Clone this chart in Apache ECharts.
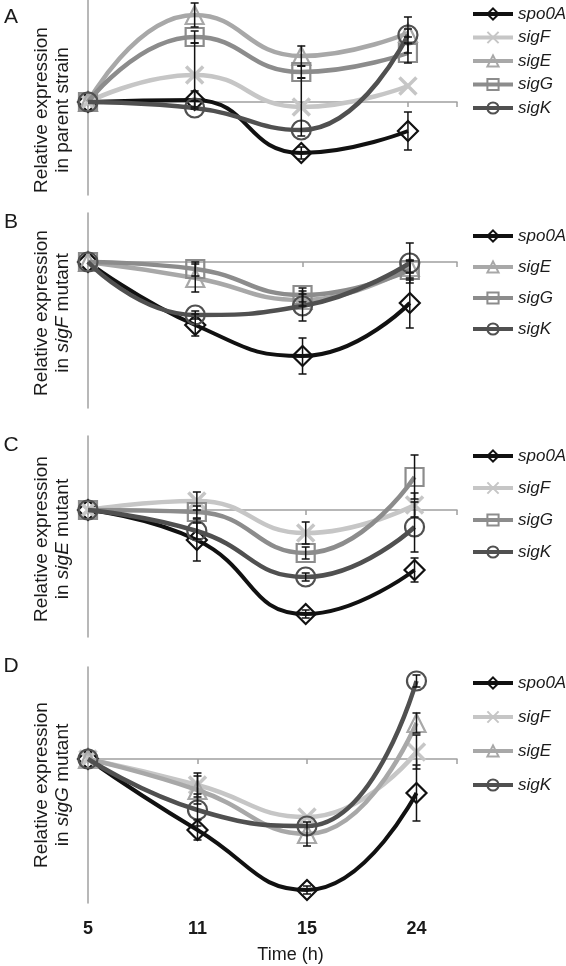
<!DOCTYPE html>
<html>
<head>
<meta charset="utf-8">
<script src="https://cdn.jsdelivr.net/npm/echarts@6/dist/echarts.min.js"></script>
<style>
html,body{margin:0;padding:0;background:#fff;}
#chart{width:566px;height:966px;}
</style>
</head>
<body>
<div id="chart"></div>
<script>
// ---- data ----
const times = ['5', '11', '15', '24'];

// Panel A: parent strain
const A_spo0A = [0, 0.1, -2.55, -1.45];
const A_spo0A_err = [0, 0.45, 0.3, 0.95];
const A_sigF = [0, 1.35, -0.25, 0.8];
const A_sigF_err = [0, 1.6, 1.45, 0];
const A_sigE = [0, 4.35, 2.3, 3.45];
const A_sigE_err = [0, 0.6, 0.5, 0.2];
const A_sigG = [0, 3.25, 1.5, 2.45];
const A_sigG_err = [0, 0.3, 0.3, 0.5];
const A_sigK = [0, -0.3, -1.4, 3.35];
const A_sigK_err = [0, 0, 0, 0.9];

// Panel B: sigF mutant
const B_spo0A = [0, -3.15, -4.7, -2.05];
const B_spo0A_err = [0, 0.55, 0.9, 1.25];
const B_sigE = [0, -0.8, -1.9, -0.25];
const B_sigE_err = [0, 0.7, 0.3, 0.3];
const B_sigG = [0, -0.35, -1.65, -0.4];
const B_sigG_err = [0, 0.35, 0.35, 0.5];
const B_sigK = [0, -2.65, -2.2, -0.05];
const B_sigK_err = [0, 0.2, 0.75, 1.0];

// Panel C: sigE mutant
const C_spo0A = [0, -1.5, -5.2, -3.0];
const C_spo0A_err = [0, 1.05, 0.2, 0.6];
const C_sigF = [0, 0.45, -1.15, 0.25];
const C_sigF_err = [0, 0.45, 0.55, 0.6];
const C_sigG = [0, -0.1, -2.15, 1.65];
const C_sigG_err = [0, 0.3, 0.3, 1.1];
const C_sigK = [0, -1.05, -3.35, -0.85];
const C_sigK_err = [0, 0.4, 0.2, 1.25];

// Panel D: sigG mutant
const D_spo0A = [0, -3.55, -6.55, -1.7];
const D_spo0A_err = [0, 0.5, 0.2, 1.4];
const D_sigF = [0, -1.3, -2.9, 0.35];
const D_sigF_err = [0, 0.6, 0, 0.85];
const D_sigE = [0, -1.55, -3.75, 1.8];
const D_sigE_err = [0, 0.7, 0.6, 0.5];
const D_sigK = [0, -2.55, -3.35, 3.9];
const D_sigK_err = [0, 0.8, 0, 0.3];

// ---- styles ----
const FONT = '"Liberation Sans", Arial, sans-serif';
const AXIS_GRAY = '#a0a0a0';
const geneStyle = {
  spo0A: {color: '#111111', symbol: 'diamond', size: 20, lw: 4},
  sigF: {color: '#c6c6c6', symbol: 'path://M0,0L10,10M10,0L0,10', size: 17, lw: 4.5},
  sigE: {color: '#a8a8a8', symbol: 'triangle', size: 18, lw: 4.5},
  sigG: {color: '#8c8c8c', symbol: 'rect', size: 18, lw: 4.5},
  sigK: {color: '#505050', symbol: 'circle', size: 19, lw: 4.5}
};

const panels = [
  {top: 0, height: 195, xmax: 3.46, ymin: -4.65, ymax: 5.1,
   genes: [['spo0A', A_spo0A, A_spo0A_err], ['sigF', A_sigF, A_sigF_err], ['sigE', A_sigE, A_sigE_err], ['sigG', A_sigG, A_sigG_err], ['sigK', A_sigK, A_sigK_err]],
   legendTop: 4, legendGap: 3.5},
  {top: 213, height: 195, xmax: 3.44, ymin: -7.3, ymax: 2.45,
   genes: [['spo0A', B_spo0A, B_spo0A_err], ['sigE', B_sigE, B_sigE_err], ['sigG', B_sigG, B_sigG_err], ['sigK', B_sigK, B_sigK_err]],
   legendTop: 226, legendGap: 11},
  {top: 436, height: 201, xmax: 3.39, ymin: -6.35, ymax: 3.7,
   genes: [['spo0A', C_spo0A, C_spo0A_err], ['sigF', C_sigF, C_sigF_err], ['sigG', C_sigG, C_sigG_err], ['sigK', C_sigK, C_sigK_err]],
   legendTop: 446, legendGap: 12},
  {top: 667, height: 236, xmax: 3.37, ymin: -7.2, ymax: 4.6,
   genes: [['spo0A', D_spo0A, D_spo0A_err], ['sigF', D_sigF, D_sigF_err], ['sigE', D_sigE, D_sigE_err], ['sigK', D_sigK, D_sigK_err]],
   legendTop: 673, legendGap: 14}
];

const grid = [], xAxis = [], yAxis = [], series = [], legend = [];

panels.forEach((p, gi) => {
  grid.push({left: 88, right: 109, top: p.top, height: p.height});
  xAxis.push({
    gridIndex: gi, type: 'value', min: 0, max: p.xmax, interval: 1,
    axisLine: {show: true, onZero: true, lineStyle: {color: AXIS_GRAY, width: 1.5}},
    axisTick: {show: true, length: 5, lineStyle: {color: AXIS_GRAY, width: 1.5}},
    axisLabel: {show: false}, splitLine: {show: false}
  });
  yAxis.push({
    gridIndex: gi, type: 'value', min: p.ymin, max: p.ymax,
    axisLine: {show: true, lineStyle: {color: AXIS_GRAY, width: 1.5}},
    axisTick: {show: false}, axisLabel: {show: false}, splitLine: {show: false}
  });
  legend.push({
    orient: 'vertical', left: 471, top: p.legendTop, itemGap: p.legendGap, padding: 0,
    itemWidth: 40, itemHeight: 14,
    data: p.genes.map(g => g[0]),
    lineStyle: {width: 4},
    textStyle: {fontFamily: FONT, fontSize: 17, fontStyle: 'italic', color: '#1a1a1a', lineHeight: 20},
    selectedMode: false
  });
  p.genes.forEach((g, si) => {
    const st = geneStyle[g[0]];
    series.push({
      type: 'line', name: g[0], xAxisIndex: gi, yAxisIndex: gi,
      data: g[1].map((v, i) => [i, v]),
      smooth: 0.5, symbol: st.symbol, symbolSize: st.size,
      lineStyle: {color: st.color, width: st.lw},
      itemStyle: {color: 'rgba(255,255,255,0)', borderColor: st.color, borderWidth: g[0] === 'sigF' ? 3.5 : 2.2},
      emphasis: {disabled: true}, z: 2 + si
    });
  });
  const errData = [];
  p.genes.forEach(g => g[1].forEach((v, i) => { if (g[2][i] > 0) errData.push([i, v, g[2][i]]); }));
  series.push({
    type: 'custom', xAxisIndex: gi, yAxisIndex: gi, data: errData, z: 10, silent: true,
    renderItem: function (params, api) {
      const x = api.value(0), y = api.value(1), e = api.value(2);
      const t = api.coord([x, y + e]), b = api.coord([x, y - e]);
      const w = 4, s = {stroke: '#111', lineWidth: 1.5};
      return {type: 'group', children: [
        {type: 'line', shape: {x1: t[0], y1: t[1], x2: b[0], y2: b[1]}, style: s},
        {type: 'line', shape: {x1: t[0] - w, y1: t[1], x2: t[0] + w, y2: t[1]}, style: s},
        {type: 'line', shape: {x1: b[0] - w, y1: b[1], x2: b[0] + w, y2: b[1]}, style: s}
      ]};
    }
  });
});

// bottom label axis for panel D
xAxis.push({
  gridIndex: 3, type: 'value', min: 0, max: panels[3].xmax, interval: 1, position: 'bottom',
  axisLine: {show: false, onZero: false}, axisTick: {show: false}, splitLine: {show: false},
  axisLabel: {show: true, margin: 17, fontFamily: FONT, fontSize: 18, fontWeight: 'bold', color: '#1a1a1a',
    formatter: v => (times[v] !== undefined ? times[v] : '')},
  name: 'Time (h)', nameLocation: 'middle', nameGap: 43,
  nameTextStyle: {fontFamily: FONT, fontSize: 18, color: '#1a1a1a', padding: [0, 0, 0, 36]}
});

const titleLines = [
  ['Relative expression\nin parent strain', 110],
  ['Relative expression\nin {i|sigF} mutant', 313],
  ['Relative expression\nin {i|sigE} mutant', 539],
  ['Relative expression\nin {i|sigG} mutant', 785]
];
const letters = [['A', 17], ['B', 222], ['C', 445], ['D', 666]];
const graphic = [];
titleLines.forEach(t => graphic.push({
  type: 'text', x: 52, y: t[1], rotation: Math.PI / 2,
  style: {text: t[0], align: 'center', verticalAlign: 'middle', fill: '#1a1a1a',
    font: '19px ' + FONT, lineHeight: 21,
    rich: {i: {fontStyle: 'italic', fontSize: 19, fontFamily: FONT, fill: '#1a1a1a', lineHeight: 21}}}
}));
letters.forEach(l => graphic.push({
  type: 'text', x: 11, y: l[1],
  style: {text: l[0], align: 'center', verticalAlign: 'middle', fill: '#1a1a1a', font: '21px ' + FONT}
}));

const chart = echarts.init(document.getElementById('chart'));
chart.setOption({
  animation: false,
  backgroundColor: '#fff',
  grid, xAxis, yAxis, legend, series, graphic
});
</script>
</body>
</html>
